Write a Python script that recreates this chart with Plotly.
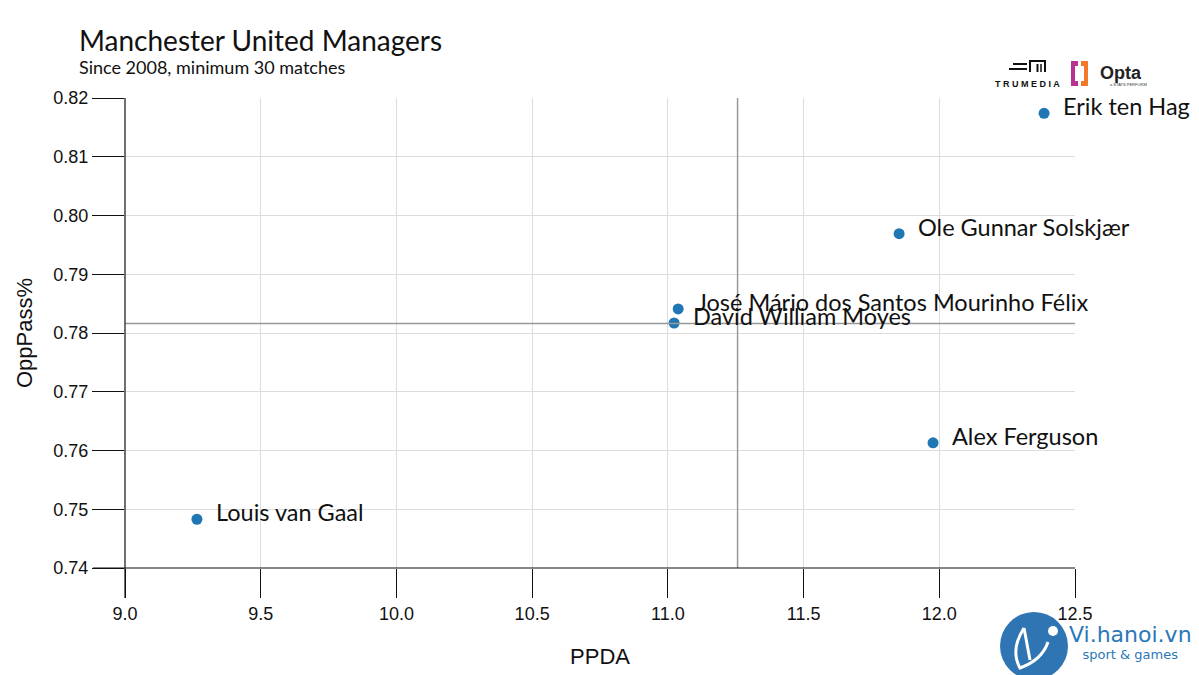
import plotly.graph_objects as go

managers = ["Erik ten Hag", "Ole Gunnar Solskjær", "José Mário dos Santos Mourinho Félix",
            "David William Moyes", "Alex Ferguson", "Louis van Gaal"]
ppda = [12.386, 11.852, 11.038, 11.023, 11.977, 9.265]
opp_pass = [0.8174, 0.7969, 0.7841, 0.7817, 0.7613, 0.7483]
x_ticks = [9.0, 9.5, 10.0, 10.5, 11.0, 11.5, 12.0, 12.5]
y_ticks = [0.74, 0.75, 0.76, 0.77, 0.78, 0.79, 0.80, 0.81, 0.82]

mean_x = sum(ppda) / len(ppda)
mean_y = sum(opp_pass) / len(opp_pass)

W, H = 1199, 675
OFF = 8  # page body offset
L_ABS, R_ABS, T_ABS, B_ABS = 125, 1075, 98, 568
PW, PH = R_ABS - L_ABS, B_ABS - T_ABS
ML, MT = L_ABS - OFF, T_ABS - OFF
MR, MB = W - ML - PW, H - MT - PH


def px(x):
    return (x - L_ABS) / PW


def py(y):
    return (B_ABS - y) / PH


fig = go.Figure()
fig.add_trace(go.Scatter(
    x=ppda, y=opp_pass, mode="markers",
    marker=dict(size=11, color="#1f77b4"),
    hoverinfo="text", text=managers, showlegend=False, cliponaxis=False))

annotations = []
for name, xv, yv in zip(managers, ppda, opp_pass):
    annotations.append(dict(x=xv, y=yv, xref="x", yref="y", text=name, showarrow=False,
                            xanchor="left", yanchor="middle", xshift=17, yshift=7,
                            font=dict(family="Lato", size=23.5, color="#111")))

annotations.append(dict(x=px(77), y=py(21), xref="paper", yref="paper",
                        text=("<span style='font-size:28px'>Manchester United Managers</span><br>"
                              "Since 2008, minimum 30 matches"),
                        showarrow=False, xanchor="left", yanchor="top", align="left",
                        font=dict(family="Lato", size=18, color="#111")))

shapes = []
# mean lines
shapes.append(dict(type="line", xref="x", yref="paper", x0=mean_x, x1=mean_x, y0=0, y1=1,
                   line=dict(color="#999999", width=1.5)))
shapes.append(dict(type="line", xref="paper", yref="y", x0=0, x1=1, y0=mean_y, y1=mean_y,
                   line=dict(color="#999999", width=1.5)))
# axis lines extended past the corner
shapes.append(dict(type="line", xref="paper", yref="paper", x0=0, x1=0, y0=py(598), y1=1,
                   line=dict(color="#111", width=1.2)))
shapes.append(dict(type="line", xref="paper", yref="paper", x0=px(93), x1=1, y0=0, y1=0,
                   line=dict(color="#111", width=1.2)))

# TruMedia logo approximation
annotations.append(dict(x=px(1027), y=py(84), xref="paper", yref="paper", text="<b>T R U M E D I A</b>",
                        showarrow=False, xanchor="center", yanchor="middle",
                        font=dict(family="Liberation Sans", size=9, color="#111")))
for (x0, x1, y0) in [(1013, 1027, 64), (1009, 1027, 69)]:
    shapes.append(dict(type="line", xref="paper", yref="paper", x0=px(x0), x1=px(x1), y0=py(y0), y1=py(y0),
                       line=dict(color="#111", width=2)))
shapes.append(dict(type="path", xref="paper", yref="paper",
                   path=f"M {px(1030)} {py(72)} L {px(1030)} {py(61)} L {px(1045)} {py(61)} L {px(1045)} {py(72)}",
                   line=dict(color="#111", width=2)))
shapes.append(dict(type="line", xref="paper", yref="paper", x0=px(1037.5), x1=px(1037.5), y0=py(64), y1=py(72),
                   line=dict(color="#111", width=2)))
shapes.append(dict(type="line", xref="paper", yref="paper", x0=px(1041), x1=px(1041), y0=py(64), y1=py(72),
                   line=dict(color="#111", width=1.5)))
# Opta logo approximation
shapes.append(dict(type="rect", xref="paper", yref="paper", x0=px(1071), x1=px(1080), y0=py(86), y1=py(61),
                   line=dict(width=0), fillcolor="#b8338f", layer="above"))
shapes.append(dict(type="rect", xref="paper", yref="paper", x0=px(1080), x1=px(1088), y0=py(86), y1=py(61),
                   line=dict(width=0), fillcolor="#f2792a", layer="above"))
shapes.append(dict(type="rect", xref="paper", yref="paper", x0=px(1075), x1=px(1084), y0=py(81), y1=py(66),
                   line=dict(width=0), fillcolor="white", layer="above"))
shapes.append(dict(type="rect", xref="paper", yref="paper", x0=px(1078), x1=px(1081), y0=py(86), y1=py(61),
                   line=dict(width=0), fillcolor="white", layer="above"))
annotations.append(dict(x=px(1098), y=py(73), xref="paper", yref="paper", text="<b>Opta</b>",
                        showarrow=False, xanchor="left", yanchor="middle",
                        font=dict(family="Liberation Sans", size=18, color="#222")))
annotations.append(dict(x=px(1128), y=py(84), xref="paper", yref="paper", text="a STATS PERFORM",
                        showarrow=False, xanchor="center", yanchor="middle",
                        font=dict(family="Liberation Sans", size=4, color="#333")))

# Watermark approximation
shapes.append(dict(type="circle", xref="paper", yref="paper", x0=px(1000), x1=px(1068), y0=py(612), y1=py(680),
                   line=dict(width=0), fillcolor="#2f74b3", layer="above"))
shapes.append(dict(type="path", xref="paper", yref="paper",
                   path=(f"M {px(1024)} {py(628)} Q {px(1010)} {py(650)} {px(1020)} {py(668)} "
                         f"Q {px(1042)} {py(660)} {px(1048)} {py(642)}"),
                   line=dict(color="white", width=3), layer="above"))
shapes.append(dict(type="line", xref="paper", yref="paper", x0=px(1024), x1=px(1030), y0=py(628), y1=py(660),
                   line=dict(color="white", width=3), layer="above"))
shapes.append(dict(type="circle", xref="paper", yref="paper", x0=px(1048), x1=px(1058), y0=py(626), y1=py(636),
                   line=dict(width=0), fillcolor="white", layer="above"))
annotations.append(dict(x=px(1130), y=py(620), xref="paper", yref="paper",
                        text="<span style='font-size:22px'>Vi.hanoi.vn</span><br>sport &amp; games",
                        showarrow=False, xanchor="center", yanchor="top", align="center",
                        font=dict(family="DejaVu Sans", size=13, color="#2a78b8")))

fig.update_layout(
    width=W, height=H, margin=dict(l=ML, r=MR, t=MT, b=MB, autoexpand=False),
    paper_bgcolor="white", plot_bgcolor="white",
    shapes=shapes, annotations=annotations,
    xaxis=dict(range=[9.0, 12.5], tickvals=x_ticks, ticktext=[f"{v:.1f}" for v in x_ticks],
               ticks="outside", ticklen=29, tickcolor="#111", tickwidth=1,
               showgrid=True, gridcolor="#dddddd", gridwidth=1, zeroline=False, showline=False,
               tickfont=dict(family="Liberation Sans", size=18, color="#111"),
               title=dict(text="PPDA", font=dict(family="Liberation Sans", size=22, color="#111"), standoff=26)),
    yaxis=dict(range=[0.74, 0.82], tickvals=y_ticks, ticktext=[f"{v:.2f}" for v in y_ticks],
               ticks="outside", ticklen=32, tickcolor="#111", tickwidth=1,
               showgrid=True, gridcolor="#dddddd", gridwidth=1, zeroline=False, showline=False,
               tickfont=dict(family="Liberation Sans", size=18, color="#111"),
               title=dict(text="OppPass%", font=dict(family="Liberation Sans", size=22, color="#111"), standoff=14)),
)

fig.write_html("out.html")
